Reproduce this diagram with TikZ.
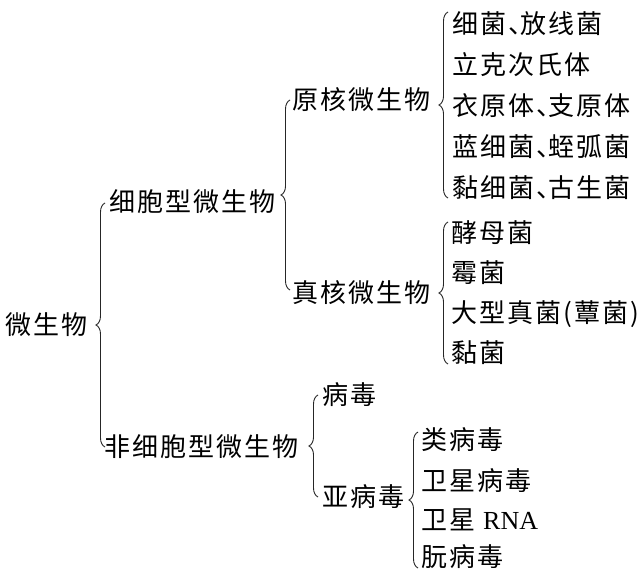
\documentclass[tikz,border=0pt]{standalone}
\usepackage{fontspec}
\newfontfamily\cjk[LetterSpace=8]{Noto Sans CJK SC}
\newfontfamily\lserif{Liberation Serif}
\usetikzlibrary{decorations.pathreplacing}
\newcommand\dun{、\kern-14pt}
\tikzset{
  lbl/.style={anchor=west, inner sep=0pt, text height=22pt, text depth=3pt,
    font=\cjk\fontsize{26}{26}\selectfont, text=black},
  br/.style={decorate, decoration={brace, amplitude=9pt}, line width=0.9pt, draw=black!85}
}
\begin{document}
\begin{tikzpicture}[x=1pt,y=-1pt]
\useasboundingbox (0,0) rectangle (644,572);
% labels
\node[lbl] (root) at (5,325) {微生物};
\node[lbl] (a1) at (109,202) {细胞型微生物};
\node[lbl] (a2) at (104,447) {非细胞型微生物};
\node[lbl] (b1) at (292,100) {原核微生物};
\node[lbl] (b2) at (292,293) {真核微生物};
\node[lbl] (p1) at (452,24) {细菌\dun 放线菌};
\node[lbl] (p2) at (452,65) {立克次氏体};
\node[lbl] (p3) at (452,106) {衣原体\dun 支原体};
\node[lbl] (p4) at (452,147) {蓝细菌\dun 蛭弧菌};
\node[lbl] (p5) at (452,188) {黏细菌\dun 古生菌};
\node[lbl] (e1) at (451,233) {酵母菌};
\node[lbl] (e2) at (451,273) {霉菌};
\node[lbl] (e3) at (451,313) {大型真菌(蕈菌)};
\node[lbl] (e4) at (451,353) {黏菌};
\node[lbl] (v1) at (322,395) {病毒};
\node[lbl] (v2) at (322,497) {亚病毒};
\node[lbl] (s1) at (421,440) {类病毒};
\node[lbl] (s2) at (421,481) {卫星病毒};
\node[lbl] (s3) at (421,520) {卫星 {\lserif RNA}};
\node[lbl] (s4) at (421,557) {朊病毒};
% brace end points
\coordinate (r0b) at (105,447); \coordinate (r0t) at (105,203);
\coordinate (r1b) at (290,290); \coordinate (r1t) at (290,100);
\coordinate (r2b) at (448,198); \coordinate (r2t) at (448,12);
\coordinate (r3b) at (448,364); \coordinate (r3t) at (448,222);
\coordinate (r4b) at (318,497); \coordinate (r4t) at (318,395);
\coordinate (r5b) at (418,568); \coordinate (r5t) at (418,432);
\draw[br] (r0b) -- (r0t);
\draw[br] (r1b) -- (r1t);
\draw[br] (r2b) -- (r2t);
\draw[br] (r3b) -- (r3t);
\draw[br] (r4b) -- (r4t);
\draw[br] (r5b) -- (r5t);
\end{tikzpicture}
\end{document}
